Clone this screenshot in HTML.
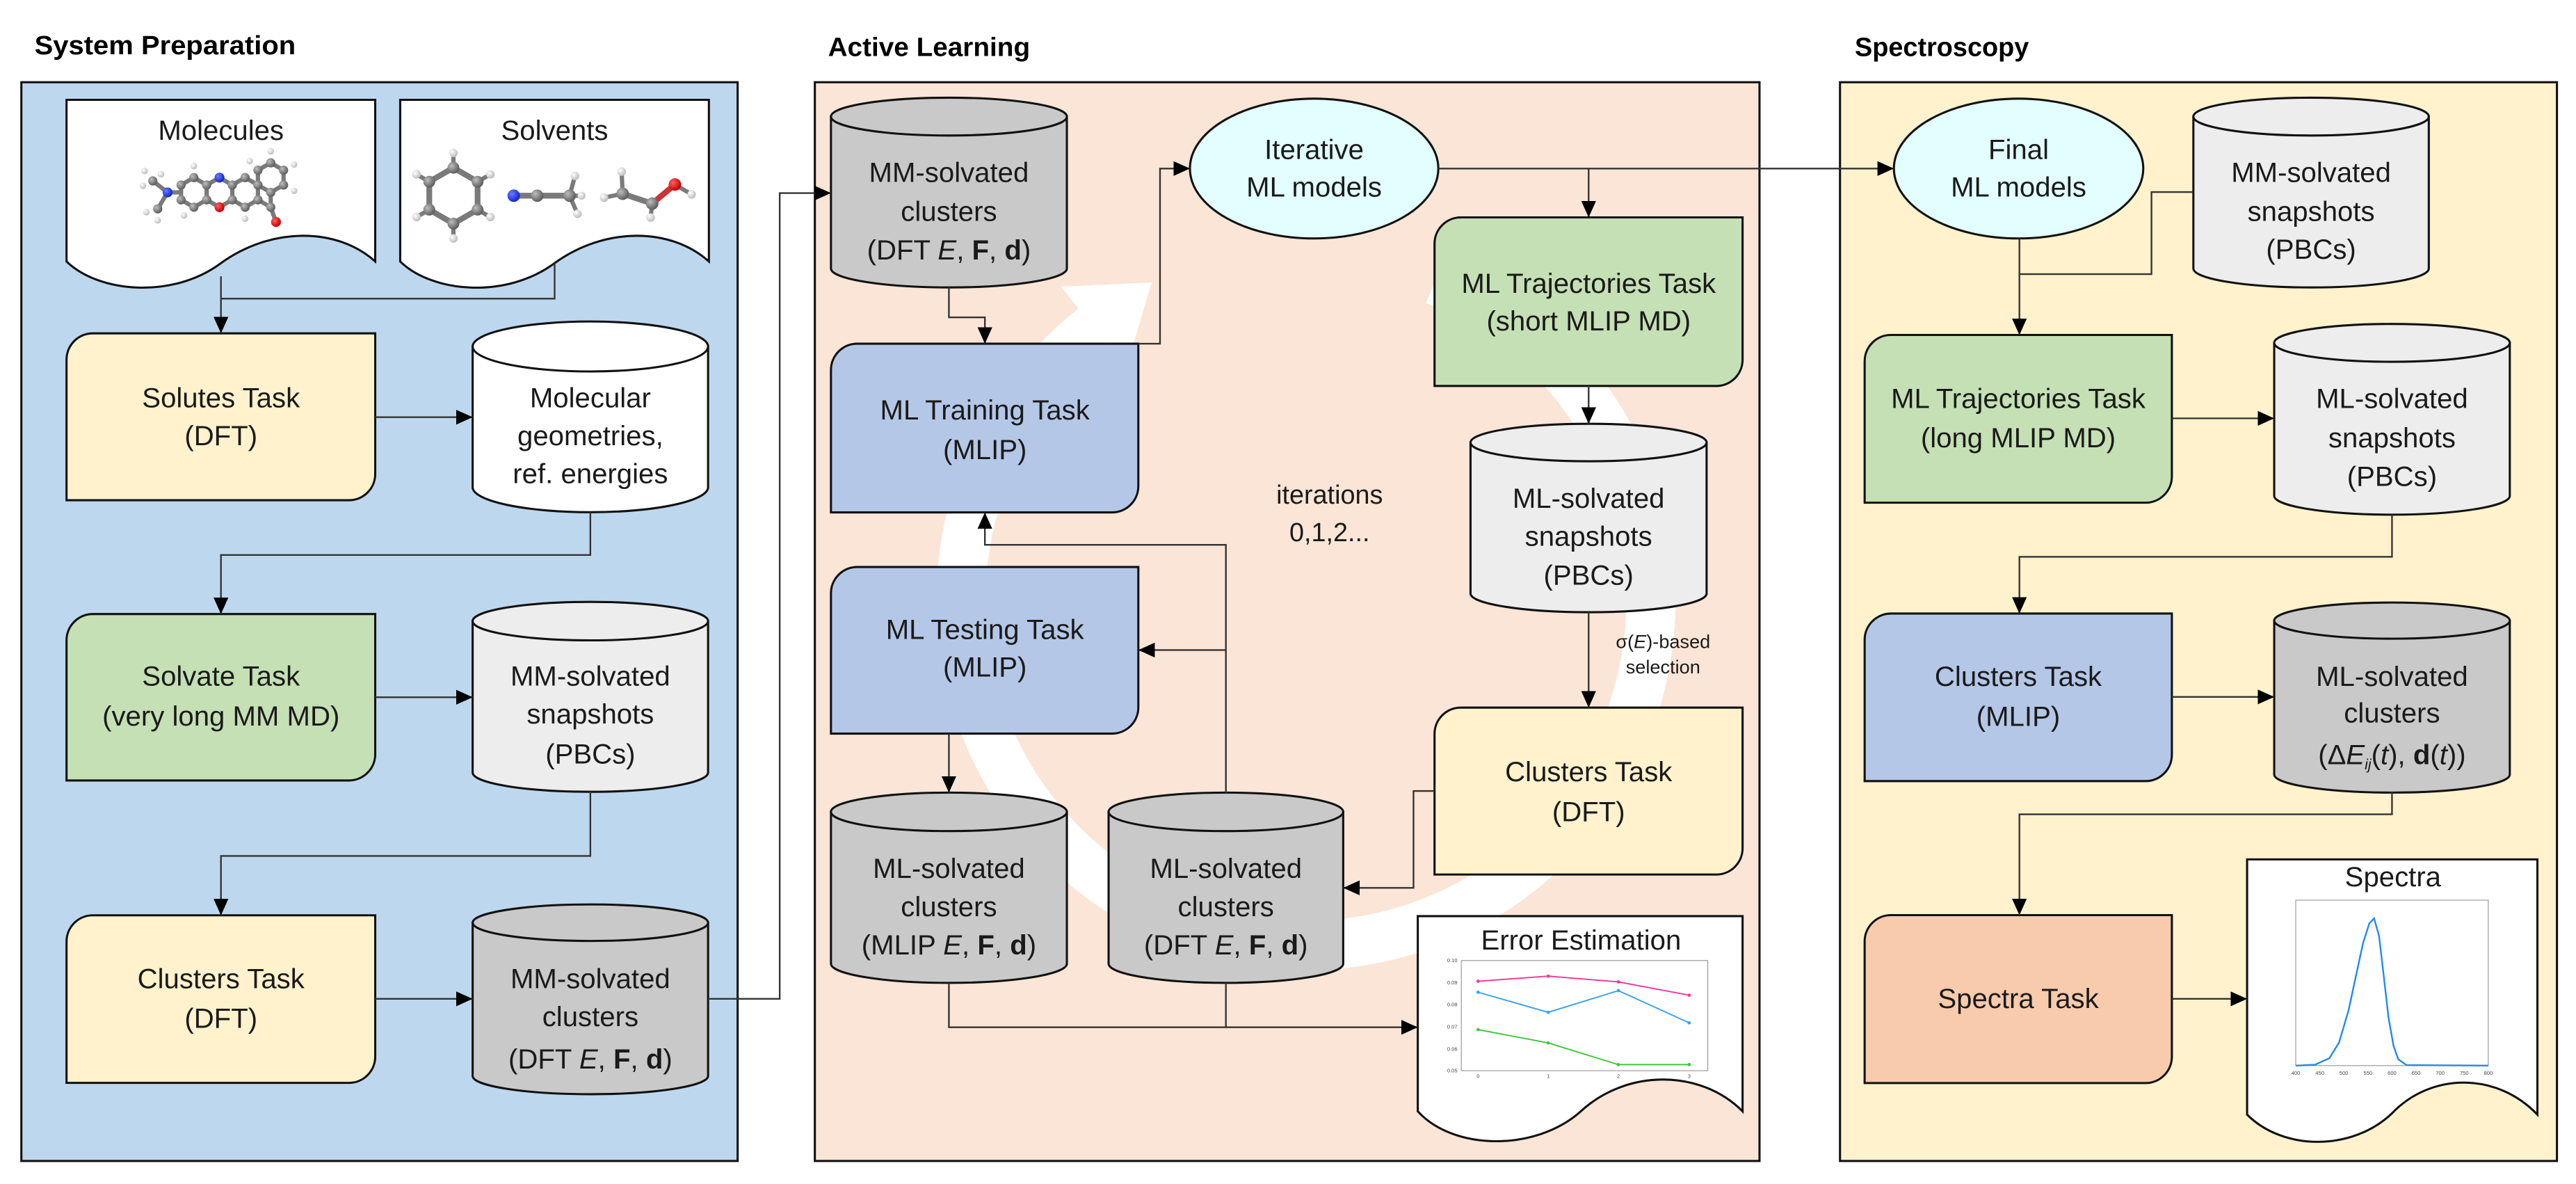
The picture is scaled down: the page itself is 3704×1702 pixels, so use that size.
<!DOCTYPE html>
<html><head><meta charset="utf-8"><style>
html,body{margin:0;padding:0;background:#fff}
svg{display:block}
text{font-family:"Liberation Sans",sans-serif;fill:#1a1a1a}
.t{font-size:17px;text-anchor:middle}
.h{font-size:16px;font-weight:bold;fill:#000}
.c{stroke:#333;stroke-width:1;fill:none}
.s{stroke:#111;stroke-width:1.3}
.tiny{font-size:3.2px;fill:#444;text-anchor:middle}
.bond{stroke:#7a7a7a;stroke-width:2.6;stroke-linecap:round}
</style></head><body>
<svg width="3704" height="1702" viewBox="0 0 1568 720" preserveAspectRatio="none" xmlns="http://www.w3.org/2000/svg">
<defs>
<marker id="a" markerUnits="userSpaceOnUse" markerWidth="10" markerHeight="9" refX="10" refY="4.5" orient="auto"><path d="M0,0 L10,4.5 L0,9 z" fill="#000"/></marker>
<radialGradient id="gC" cx="35%" cy="35%" r="65%"><stop offset="0" stop-color="#bdbdbd"/><stop offset="1" stop-color="#5e5e5e"/></radialGradient>
<radialGradient id="gH" cx="35%" cy="35%" r="65%"><stop offset="0" stop-color="#fff"/><stop offset="1" stop-color="#bdbdbd"/></radialGradient>
<radialGradient id="gN" cx="35%" cy="35%" r="65%"><stop offset="0" stop-color="#6a7dff"/><stop offset="1" stop-color="#1428c8"/></radialGradient>
<radialGradient id="gO" cx="35%" cy="35%" r="65%"><stop offset="0" stop-color="#ff6060"/><stop offset="1" stop-color="#c80000"/></radialGradient>
</defs>

<!-- titles -->
<text class="h" x="21" y="33" textLength="159" lengthAdjust="spacingAndGlyphs">System Preparation</text>
<text class="h" x="504" y="34" textLength="123" lengthAdjust="spacingAndGlyphs">Active Learning</text>
<text class="h" x="1129" y="34" textLength="106" lengthAdjust="spacingAndGlyphs">Spectroscopy</text>

<!-- panels -->
<rect x="13" y="50" width="436" height="656" fill="#bdd7ee" class="s"/>
<rect x="496" y="50" width="575" height="656" fill="#fbe5d6" class="s"/>
<rect x="1120" y="50" width="436.4" height="656" fill="#fff2cc" class="s"/>

<!-- white circular arrow -->
<path d="M873.7,170.3 A210,210 0 1 1 665.6,199.5" fill="none" stroke="#fff" stroke-width="30"/>
<path d="M701,171.8 L645.9,174.3 L685.3,224.7 Z" fill="#fff"/>

<!-- Panel 1 documents -->
<path d="M40.5,60.7 H228.4 V159 C205,138 165,138 134.5,160 C105,182 60,178 40.5,159 Z" fill="#fff" class="s"/>
<path d="M243.6,60.7 H431.5 V159 C408,138 368,138 337.6,160 C308,182 263,178 243.6,159 Z" fill="#fff" class="s"/>
<text class="t" x="134.5" y="85">Molecules</text>
<text class="t" x="337.6" y="85">Solvents</text>

<!-- main molecule -->
<g>
<polygon points="118,108 125.8,112.5 125.8,121.5 118,126 110.2,121.5 110.2,112.5" fill="none" class="bond"/>
<polygon points="133.6,108 141.4,112.5 141.4,121.5 133.6,126 125.8,121.5 125.8,112.5" fill="none" class="bond"/>
<polygon points="149.2,108 157,112.5 157,121.5 149.2,126 141.4,121.5 141.4,112.5" fill="none" class="bond"/>
<polygon points="164.8,99 172.6,103.5 172.6,112.5 164.8,117 157,112.5 157,103.5" fill="none" class="bond"/>
<line x1="157" y1="121.5" x2="164.8" y2="126" class="bond"/><line x1="164.8" y1="126" x2="164.8" y2="117" class="bond"/>
<line x1="164.8" y1="126" x2="168" y2="135" class="bond"/>
<line x1="110.2" y1="117" x2="102" y2="117" class="bond"/>
<line x1="102" y1="117" x2="93" y2="110" class="bond"/><line x1="102" y1="117" x2="96" y2="127" class="bond"/>
<g fill="url(#gC)"><circle cx="118" cy="108" r="2.8"/><circle cx="125.8" cy="112.5" r="2.8"/><circle cx="125.8" cy="121.5" r="2.8"/><circle cx="118" cy="126" r="2.8"/><circle cx="110.2" cy="121.5" r="2.8"/><circle cx="110.2" cy="112.5" r="2.8"/><circle cx="141.4" cy="112.5" r="2.8"/><circle cx="141.4" cy="121.5" r="2.8"/><circle cx="149.2" cy="108" r="2.8"/><circle cx="157" cy="112.5" r="2.8"/><circle cx="157" cy="121.5" r="2.8"/><circle cx="149.2" cy="126" r="2.8"/><circle cx="164.8" cy="99" r="2.8"/><circle cx="172.6" cy="103.5" r="2.8"/><circle cx="172.6" cy="112.5" r="2.8"/><circle cx="164.8" cy="117" r="2.8"/><circle cx="157" cy="103.5" r="2.8"/><circle cx="164.8" cy="126" r="2.8"/><circle cx="93" cy="110" r="2.8"/><circle cx="96" cy="127" r="2.8"/></g>
<circle cx="133.6" cy="108" r="3" fill="url(#gN)"/><circle cx="133.6" cy="126" r="3" fill="url(#gO)"/><circle cx="168" cy="135" r="3" fill="url(#gO)"/><circle cx="102" cy="117" r="3" fill="url(#gN)"/>
<g fill="url(#gH)"><circle cx="118" cy="101" r="2"/><circle cx="112" cy="131" r="2"/><circle cx="149.2" cy="133" r="2"/><circle cx="164.8" cy="92" r="2"/><circle cx="179" cy="100" r="2"/><circle cx="179" cy="116" r="2"/><circle cx="152" cy="98" r="2"/><circle cx="88" cy="104" r="2"/><circle cx="87" cy="113" r="2"/><circle cx="96" cy="134" r="2"/><circle cx="89" cy="129" r="2"/><circle cx="98" cy="106" r="2"/></g>
</g>
<!-- benzene -->
<g>
<polygon points="276,102 290.7,110.5 290.7,127.5 276,136 261.3,127.5 261.3,110.5" fill="none" class="bond" style="stroke-width:3.5"/>
<line x1="276" y1="102" x2="276" y2="93" class="bond"/><line x1="290.7" y1="110.5" x2="298.5" y2="106" class="bond"/><line x1="290.7" y1="127.5" x2="298.5" y2="132" class="bond"/><line x1="276" y1="136" x2="276" y2="145" class="bond"/><line x1="261.3" y1="127.5" x2="253.5" y2="132" class="bond"/><line x1="261.3" y1="110.5" x2="253.5" y2="106" class="bond"/>
<g fill="url(#gC)"><circle cx="276" cy="102" r="3.6"/><circle cx="290.7" cy="110.5" r="3.6"/><circle cx="290.7" cy="127.5" r="3.6"/><circle cx="276" cy="136" r="3.6"/><circle cx="261.3" cy="127.5" r="3.6"/><circle cx="261.3" cy="110.5" r="3.6"/></g>
<g fill="url(#gH)"><circle cx="276" cy="93" r="2.6"/><circle cx="298.5" cy="106" r="2.6"/><circle cx="298.5" cy="132" r="2.6"/><circle cx="276" cy="145" r="2.6"/><circle cx="253.5" cy="132" r="2.6"/><circle cx="253.5" cy="106" r="2.6"/></g>
</g>
<!-- acetonitrile -->
<g>
<line x1="312.7" y1="119" x2="346.7" y2="119" class="bond" style="stroke-width:3.5"/>
<line x1="346.7" y1="119" x2="350" y2="107" class="bond"/><line x1="346.7" y1="119" x2="351.5" y2="130" class="bond"/><line x1="346.7" y1="119" x2="354" y2="119" class="bond"/>
<circle cx="312.7" cy="119" r="3.8" fill="url(#gN)"/><circle cx="327" cy="119" r="3.8" fill="url(#gC)"/><circle cx="346.7" cy="119" r="3.8" fill="url(#gC)"/>
<g fill="url(#gH)"><circle cx="350" cy="107" r="2.6"/><circle cx="351.5" cy="130" r="2.6"/><circle cx="354" cy="119" r="2.4"/></g>
</g>
<!-- ethanol -->
<g>
<line x1="379" y1="117.8" x2="397" y2="123.8" class="bond" style="stroke-width:3.5"/><line x1="397" y1="123.8" x2="410.8" y2="112.2" class="bond" style="stroke:#c33;stroke-width:3.5"/>
<line x1="410.8" y1="112.2" x2="421" y2="118.2" class="bond"/><line x1="379" y1="117.8" x2="378.4" y2="104.4" class="bond"/><line x1="379" y1="117.8" x2="367.7" y2="120.2" class="bond"/><line x1="397" y1="123.8" x2="396" y2="132.3" class="bond"/>
<circle cx="379" cy="117.8" r="3.8" fill="url(#gC)"/><circle cx="397" cy="123.8" r="3.8" fill="url(#gC)"/><circle cx="410.8" cy="112.2" r="3.8" fill="url(#gO)"/>
<g fill="url(#gH)"><circle cx="421" cy="118.2" r="2.6"/><circle cx="378.4" cy="104.4" r="2.6"/><circle cx="367.7" cy="120.2" r="2.6"/><circle cx="396" cy="132.3" r="2.6"/></g>
</g>

<!-- Tasks -->
<g class="s">
<path d="M56.5,202.7 H228.4 V288.2 A16,16 0 0 1 212.4,304.2 H40.5 V218.7 A16,16 0 0 1 56.5,202.7 Z" fill="#fff2cc"/>
<path d="M56.5,373.4 H228.4 V458.6 A16,16 0 0 1 212.4,474.6 H40.5 V389.4 A16,16 0 0 1 56.5,373.4 Z" fill="#c5e0b4"/>
<path d="M56.5,556.6 H228.4 V642.5 A16,16 0 0 1 212.4,658.5 H40.5 V572.6 A16,16 0 0 1 56.5,556.6 Z" fill="#fff2cc"/>
<path d="M521.8,209 H692.9 V295.6 A16,16 0 0 1 676.9,311.6 H505.8 V225 A16,16 0 0 1 521.8,209 Z" fill="#b4c7e7"/>
<path d="M521.8,344.8 H692.9 V430.1 A16,16 0 0 1 676.9,446.1 H505.8 V360.8 A16,16 0 0 1 521.8,344.8 Z" fill="#b4c7e7"/>
<path d="M889.2,132.2 H1060.7 V218.7 A16,16 0 0 1 1044.7,234.7 H873.2 V148.2 A16,16 0 0 1 889.2,132.2 Z" fill="#c5e0b4"/>
<path d="M889.2,430.3 H1060.7 V515.8 A16,16 0 0 1 1044.7,531.8 H873.2 V446.3 A16,16 0 0 1 889.2,430.3 Z" fill="#fff2cc"/>
<path d="M1151,203.7 H1322 V289.7 A16,16 0 0 1 1306,305.7 H1135 V219.7 A16,16 0 0 1 1151,203.7 Z" fill="#c5e0b4"/>
<path d="M1151,373.1 H1322 V459 A16,16 0 0 1 1306,475 H1135 V389.1 A16,16 0 0 1 1151,373.1 Z" fill="#b4c7e7"/>
<path d="M1151,556.5 H1322 V642.6 A16,16 0 0 1 1306,658.6 H1135 V572.5 A16,16 0 0 1 1151,556.5 Z" fill="#f8cbad"/>
</g>
<text class="t" x="134.5" y="247.7">Solutes Task</text><text class="t" x="134.5" y="270.7">(DFT)</text>
<text class="t" x="134.5" y="417">Solvate Task</text><text class="t" x="134.5" y="441.2">(very long MM MD)</text>
<text class="t" x="134.5" y="601">Clusters Task</text><text class="t" x="134.5" y="625">(DFT)</text>
<text class="t" x="599.5" y="255">ML Training Task</text><text class="t" x="599.5" y="279.2">(MLIP)</text>
<text class="t" x="599.5" y="388.5">ML Testing Task</text><text class="t" x="599.5" y="411.4">(MLIP)</text>
<text class="t" x="967" y="178">ML Trajectories Task</text><text class="t" x="967" y="201">(short MLIP MD)</text>
<text class="t" x="967" y="475">Clusters Task</text><text class="t" x="967" y="499.3">(DFT)</text>
<text class="t" x="1228.5" y="248.2">ML Trajectories Task</text><text class="t" x="1228.5" y="272">(long MLIP MD)</text>
<text class="t" x="1228.5" y="417.1">Clusters Task</text><text class="t" x="1228.5" y="441.5">(MLIP)</text>
<text class="t" x="1228.5" y="612.9">Spectra Task</text>

<!-- Cylinders -->
<g class="s">
<path d="M287.7,210.7 V296.3 A71.65,15.2 0 0 0 431,296.3 V210.7 Z" fill="#fff"/><ellipse cx="359.35" cy="210.7" rx="71.65" ry="15.2" fill="#fff"/>
<path d="M287.7,377.7 V469.8 A71.65,11.7 0 0 0 431,469.8 V377.7 Z" fill="#ededed"/><ellipse cx="359.35" cy="377.7" rx="71.65" ry="11.7" fill="#ededed"/>
<path d="M287.7,561.1 V654.3 A71.65,11.1 0 0 0 431,654.3 V561.1 Z" fill="#c9c9c9"/><ellipse cx="359.35" cy="561.1" rx="71.65" ry="11.1" fill="#c9c9c9"/>
<path d="M505.8,70.9 V163.3 A71.8,11.5 0 0 0 649.4,163.3 V70.9 Z" fill="#c9c9c9"/><ellipse cx="577.6" cy="70.9" rx="71.8" ry="11.5" fill="#c9c9c9"/>
<path d="M895.1,269.1 V360.9 A71.85,11.4 0 0 0 1038.8,360.9 V269.1 Z" fill="#ededed"/><ellipse cx="966.95" cy="269.1" rx="71.85" ry="11.4" fill="#ededed"/>
<path d="M505.8,493.7 V586 A71.8,11.7 0 0 0 649.4,586 V493.7 Z" fill="#c9c9c9"/><ellipse cx="577.6" cy="493.7" rx="71.8" ry="11.7" fill="#c9c9c9"/>
<path d="M674.8,493.7 V586 A71.4,11.7 0 0 0 817.6,586 V493.7 Z" fill="#c9c9c9"/><ellipse cx="746.2" cy="493.7" rx="71.4" ry="11.7" fill="#c9c9c9"/>
<path d="M1335.1,70.9 V163.3 A71.65,11.5 0 0 0 1478.4,163.3 V70.9 Z" fill="#ededed"/><ellipse cx="1406.75" cy="70.9" rx="71.65" ry="11.5" fill="#ededed"/>
<path d="M1384.3,208.5 V301.5 A71.7,11.5 0 0 0 1527.7,301.5 V208.5 Z" fill="#ededed"/><ellipse cx="1456" cy="208.5" rx="71.7" ry="11.5" fill="#ededed"/>
<path d="M1384.3,377.4 V471 A71.7,11 0 0 0 1527.7,471 V377.4 Z" fill="#c9c9c9"/><ellipse cx="1456" cy="377.4" rx="71.7" ry="11" fill="#c9c9c9"/>
</g>
<text class="t" x="359.35" y="247.7">Molecular</text><text class="t" x="359.35" y="270.7">geometries,</text><text class="t" x="359.35" y="293.8">ref. energies</text>
<text class="t" x="359.35" y="417">MM-solvated</text><text class="t" x="359.35" y="440">snapshots</text><text class="t" x="359.35" y="464.2">(PBCs)</text>
<text class="t" x="359.35" y="601">MM-solvated</text><text class="t" x="359.35" y="624">clusters</text><text class="t" x="359.35" y="649.7">(DFT <tspan font-style="italic">E</tspan>, <tspan font-weight="bold">F</tspan>, <tspan font-weight="bold">d</tspan>)</text>
<text class="t" x="577.6" y="110.6">MM-solvated</text><text class="t" x="577.6" y="134.4">clusters</text><text class="t" x="577.6" y="157.8">(DFT <tspan font-style="italic">E</tspan>, <tspan font-weight="bold">F</tspan>, <tspan font-weight="bold">d</tspan>)</text>
<text class="t" x="966.95" y="308.9">ML-solvated</text><text class="t" x="966.95" y="331.9">snapshots</text><text class="t" x="966.95" y="355.6">(PBCs)</text>
<text class="t" x="577.6" y="533.8">ML-solvated</text><text class="t" x="577.6" y="557.1">clusters</text><text class="t" x="577.6" y="580.5">(MLIP <tspan font-style="italic">E</tspan>, <tspan font-weight="bold">F</tspan>, <tspan font-weight="bold">d</tspan>)</text>
<text class="t" x="746.2" y="533.8">ML-solvated</text><text class="t" x="746.2" y="557.1">clusters</text><text class="t" x="746.2" y="580.5">(DFT <tspan font-style="italic">E</tspan>, <tspan font-weight="bold">F</tspan>, <tspan font-weight="bold">d</tspan>)</text>
<text class="t" x="1406.75" y="110.6">MM-solvated</text><text class="t" x="1406.75" y="134.4">snapshots</text><text class="t" x="1406.75" y="157.3">(PBCs)</text>
<text class="t" x="1456" y="248.2">ML-solvated</text><text class="t" x="1456" y="272">snapshots</text><text class="t" x="1456" y="295.4">(PBCs)</text>
<text class="t" x="1456" y="417.1">ML-solvated</text><text class="t" x="1456" y="439.4">clusters</text><text class="t" x="1456" y="464.8">(Δ<tspan font-style="italic">E</tspan><tspan font-style="italic" font-size="9" dy="3">ij</tspan><tspan dy="-3">(</tspan><tspan font-style="italic">t</tspan>), <tspan font-weight="bold">d</tspan>(<tspan font-style="italic">t</tspan>))</text>

<!-- Ellipses -->
<ellipse cx="799.9" cy="102.5" rx="75.6" ry="42.5" fill="#e2feff" class="s"/>
<ellipse cx="1228.7" cy="102.5" rx="75.9" ry="42.5" fill="#e2feff" class="s"/>
<text class="t" x="799.9" y="96.6">Iterative</text><text class="t" x="799.9" y="119.5">ML models</text>
<text class="t" x="1228.7" y="96.6">Final</text><text class="t" x="1228.7" y="119.5">ML models</text>

<text class="t" x="809.3" y="306.2" style="font-size:16px">iterations</text>
<text class="t" x="809.3" y="329.2" style="font-size:16px">0,1,2...</text>
<text class="t" x="1012.3" y="394" style="font-size:11.5px">σ(<tspan font-style="italic">E</tspan>)-based</text>
<text class="t" x="1012.3" y="409.6" style="font-size:11.5px">selection</text>

<!-- Documents: Error Estimation & Spectra -->
<path d="M863,557.1 H1060.7 V675.8 C1035,650 990,650 962,676 C935,700 885,700 863,675.8 Z" fill="#fff" class="s"/>
<text class="t" x="962.4" y="577.4">Error Estimation</text>
<rect x="889.5" y="584.1" width="150" height="67" fill="#fff" stroke="#999" stroke-width="0.5"/>
<polyline points="899.7,596.7 942.4,593.6 985.1,597.1 1028.2,605.2" fill="none" stroke="#f0369a" stroke-width="0.8"/>
<polyline points="899.7,603.4 942.4,615.6 985.1,602.4 1028.2,622" fill="none" stroke="#3ba0f0" stroke-width="0.8"/>
<polyline points="899.7,626.1 942.4,634.2 985.1,647.4 1028.2,647.4" fill="none" stroke="#3cc83c" stroke-width="0.8"/>
<g fill="#f0369a"><circle cx="899.7" cy="596.7" r="1"/><circle cx="942.4" cy="593.6" r="1"/><circle cx="985.1" cy="597.1" r="1"/><circle cx="1028.2" cy="605.2" r="1"/></g>
<g fill="#3ba0f0"><circle cx="899.7" cy="603.4" r="1"/><circle cx="942.4" cy="615.6" r="1"/><circle cx="985.1" cy="602.4" r="1"/><circle cx="1028.2" cy="622" r="1"/></g>
<g fill="#3cc83c"><circle cx="899.7" cy="626.1" r="1"/><circle cx="942.4" cy="634.2" r="1"/><circle cx="985.1" cy="647.4" r="1"/><circle cx="1028.2" cy="647.4" r="1"/></g>
<text class="tiny" x="884" y="585">0.10</text><text class="tiny" x="884" y="598.5">0.09</text><text class="tiny" x="884" y="612">0.08</text><text class="tiny" x="884" y="625.5">0.07</text><text class="tiny" x="884" y="639">0.06</text><text class="tiny" x="884" y="652">0.05</text>
<text class="tiny" x="899.7" y="655.5">0</text><text class="tiny" x="942.4" y="655.5">1</text><text class="tiny" x="985.1" y="655.5">2</text><text class="tiny" x="1028.2" y="655.5">3</text>

<path d="M1367.8,522.6 H1544.5 V677.8 C1520,652 1480,652 1456,677 C1432,700 1390,700 1367.8,677.8 Z" fill="#fff" class="s"/>
<text class="t" x="1456.6" y="538.9">Spectra</text>
<rect x="1397.4" y="547.4" width="117.2" height="100.6" fill="#fff" stroke="#999" stroke-width="0.5"/>
<polyline points="1397.4,648 1409.1,647.5 1417.9,643.5 1423.8,633.9 1429.6,614.2 1434,593.7 1438.4,573.4 1442.2,561.5 1445.1,558.5 1448.1,569.1 1451,593.7 1453.9,618.9 1456.9,635.9 1459.8,644.1 1464.8,647.7 1514.6,648" fill="none" stroke="#1e88f0" stroke-width="1"/>
<text class="tiny" x="1397.4" y="653.5">400</text><text class="tiny" x="1412.05" y="653.5">450</text><text class="tiny" x="1426.7" y="653.5">500</text><text class="tiny" x="1441.35" y="653.5">550</text><text class="tiny" x="1456" y="653.5">600</text><text class="tiny" x="1470.65" y="653.5">650</text><text class="tiny" x="1485.3" y="653.5">700</text><text class="tiny" x="1499.95" y="653.5">750</text><text class="tiny" x="1514.6" y="653.5">800</text>

<!-- Connectors -->
<g class="c">
<path d="M134.5,168 V202.7" marker-end="url(#a)"/>
<path d="M337.6,160 V181.6 H134.5"/>
<path d="M228.4,253.7 H287.7" marker-end="url(#a)"/>
<path d="M359.35,311.5 V337.5 H134.5 V373.4" marker-end="url(#a)"/>
<path d="M228.4,424 H287.7" marker-end="url(#a)"/>
<path d="M359.35,481.5 V520.5 H134.5 V556.6" marker-end="url(#a)"/>
<path d="M228.4,607.4 H287.7" marker-end="url(#a)"/>
<path d="M431,607.4 H474.6 V117.4 H505.8" marker-end="url(#a)"/>
<path d="M577.6,174.8 V193 H599.5 V209" marker-end="url(#a)"/>
<path d="M692.9,209 H706.1 V102.5 H724.3" marker-end="url(#a)"/>
<path d="M875.5,102.5 H1152.8" marker-end="url(#a)"/>
<path d="M967,102.5 V132.2" marker-end="url(#a)"/>
<path d="M967,234.7 V257.7" marker-end="url(#a)"/>
<path d="M967,372.3 V430.3" marker-end="url(#a)"/>
<path d="M873.2,481 H860.4 V539.9 H817.6" marker-end="url(#a)"/>
<path d="M746.2,482 V331.3 H599.5 V311.6" marker-end="url(#a)"/>
<path d="M746.2,395.3 H692.9" marker-end="url(#a)"/>
<path d="M577.6,446.1 V482" marker-end="url(#a)"/>
<path d="M577.6,597.7 V624.7 H863" marker-end="url(#a)"/>
<path d="M746.2,597.7 V624.7"/>
<path d="M1229.2,145 V203.7" marker-end="url(#a)"/>
<path d="M1335.1,116.8 H1309.6 V166.7 H1229.2"/>
<path d="M1322,254.4 H1384.3" marker-end="url(#a)"/>
<path d="M1456,313 V338.6 H1229.2 V373.1" marker-end="url(#a)"/>
<path d="M1322,423.8 H1384.3" marker-end="url(#a)"/>
<path d="M1456,482 V495.2 H1229.2 V556.5" marker-end="url(#a)"/>
<path d="M1322,607.4 H1367.8" marker-end="url(#a)"/>
</g>
</svg>
</body></html>
